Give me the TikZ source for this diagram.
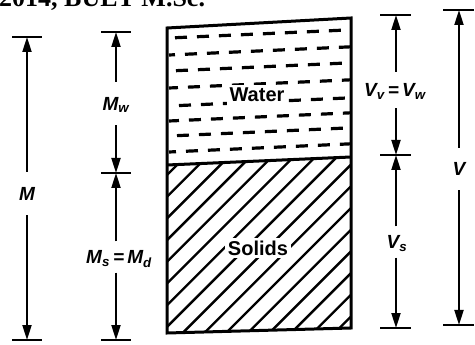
\documentclass[tikz,border=0pt]{standalone}
\usepackage{fontspec}
\setmainfont{Liberation Sans}
\newfontfamily\hdrfont{Liberation Serif}
\usetikzlibrary{arrows.meta}
\newcommand\symlbl[2]{#1\textsubscript{#2}}
\begin{document}
\begin{tikzpicture}[x=1pt,y=-1pt,
  boxline/.style={line width=3, line join=miter},
  hatchline/.style={line width=2.4},
  waterdash/.style={line width=3.2, dash pattern=on 12 off 10},
  tickline/.style={line width=2.8},
  dimline/.style={line width=2, -{Triangle[length=15,width=9]}},
  dimlbl/.style={font=\fontsize{19}{21}\selectfont\bfseries\itshape, inner sep=0pt, text depth=0pt},
  matlbl/.style={font=\fontsize{20}{22}\selectfont\bfseries, fill=white, inner sep=3pt},
  hdr/.style={font=\hdrfont\fontsize{26}{28}\selectfont\bfseries, inner sep=0pt}]
\useasboundingbox (0,0) rectangle (475,345);
\clip (0,0) rectangle (475,345);
% cut-off header
\node[hdr, anchor=base west] (hdr) at (-1,7) {2014, BUET M.Sc.};
% box corners
\coordinate (TL) at (167,28);
\coordinate (TR) at (351,18);
\coordinate (BR) at (351,328);
\coordinate (BL) at (167,333);
\coordinate (DL) at (167,165);
\coordinate (DR) at (351,157);
% hatching of solids
\begin{scope}
  \clip (DL) -- (DR) -- (BR) -- (BL) -- cycle;
  \foreach \i in {0,...,17}
    \draw[hatchline] ({-3+21.7*\i},345) -- ++(220,-220);
\end{scope}
% water dashes
\begin{scope}
  \clip (TL) -- (TR) -- (DR) -- (DL) -- cycle;
  \foreach \y/\ph in {38/16, 55/6, 71/15, 88/3, 106/12, 121/2, 136/14, 152/5}
    \draw[waterdash, dash phase=\ph] (169,\y) -- (351,{\y-8.2});
\end{scope}
\node[matlbl] (water) at (257,95) {Water};
\node[matlbl] (solids) at (258,248) {Solids};
% box outline
\draw[boxline] (TL) -- (TR) -- (BR) -- (BL) -- cycle;
\draw[boxline] (DL) -- (DR);
% dimension coordinates
\coordinate (Mt) at (27,37);
\coordinate (Mb) at (27,340);
\coordinate (Mwt) at (116,32);
\coordinate (Mm) at (116,173);
\coordinate (Msb) at (116,340);
\coordinate (Vvt) at (396,15);
\coordinate (Vm) at (396,155);
\coordinate (Vsb) at (396,328);
\coordinate (Vt) at (459,10);
\coordinate (Vb) at (459,325);
% ticks
\foreach \c in {Mt,Mb,Mwt,Mm,Msb}
  \draw[tickline] ([xshift=-15]\c) -- ([xshift=15]\c);
\foreach \c in {Vvt,Vm,Vsb,Vt,Vb}
  \draw[tickline] ([xshift=-16]\c) -- ([xshift=15]\c);
% labels
\node[dimlbl, minimum height=43] (Mlab) at (27,193.5) {M};
\node[dimlbl, minimum height=43] (Mwlab) at (116,103.5) {\symlbl{M}{w}};
\node[dimlbl, minimum height=31] (Mslab) at (119,257) {\symlbl{M}{s}\,=\,\symlbl{M}{d}};
\node[dimlbl, minimum height=36] (Vvlab) at (395,90) {\symlbl{V}{v}\,=\,\symlbl{V}{w}};
\node[dimlbl, minimum height=31] (Vslab) at (397,242) {\symlbl{V}{s}};
\node[dimlbl, minimum height=42] (Vlab) at (459,169) {V};
% dimension arrows
\draw[dimline] (Mlab.north) -- (Mt);
\draw[dimline] (Mlab.south) -- (Mb);
\draw[dimline] (Mwlab.north) -- (Mwt);
\draw[dimline] (Mwlab.south) -- (Mm);
\draw[dimline] (Mm |- Mslab.north) -- (Mm);
\draw[dimline] (Mm |- Mslab.south) -- (Msb);
\draw[dimline] (Vm |- Vvlab.north) -- (Vvt);
\draw[dimline] (Vm |- Vvlab.south) -- (Vm);
\draw[dimline] (Vm |- Vslab.north) -- (Vm);
\draw[dimline] (Vm |- Vslab.south) -- (Vsb);
\draw[dimline] (Vlab.north) -- (Vt);
\draw[dimline] (Vlab.south) -- (Vb);
\end{tikzpicture}
\end{document}
